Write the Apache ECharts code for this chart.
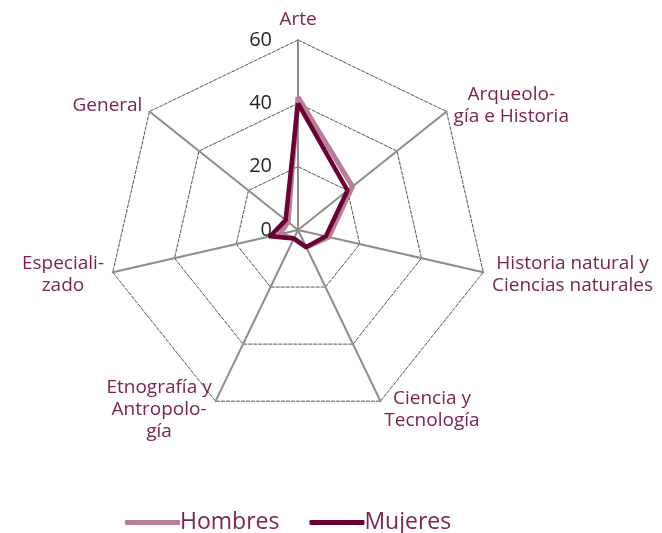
<!DOCTYPE html>
<html>
<head>
<meta charset="utf-8">
<script src="https://cdn.jsdelivr.net/npm/echarts@6/dist/echarts.min.js"></script>
<style>
  html, body { margin: 0; padding: 0; background: #fff; }
  #chart { width: 662px; height: 533px; }
</style>
</head>
<body>
<div id="chart"></div>
<script>
// categories in clockwise order, starting at the top
var categories = ['Arte', 'Arqueolo-\ngía e Historia', 'Historia natural y\nCiencias naturales',
  'Ciencia y\nTecnología', 'Etnografía y\nAntropolo-\ngía', 'Especiali-\nzado', 'General'];
var hombres = [42, 22, 10, 6, 3, 6, 4];
var mujeres = [40, 20, 9, 6, 3, 9, 5];
var tickLabels = [0, 20, 40, 60];

// echarts radar goes counter-clockwise, so keep the first item and reverse the rest
function ccw(arr) {
  return [arr[0]].concat(arr.slice(1).reverse());
}

var chart = echarts.init(document.getElementById('chart'));
var plum = '#7d2350';
var font = 'Open Sans';

var option = {
  backgroundColor: '#fff',
  color: ['#b87d99', '#6a0034'],
  textStyle: { fontFamily: font },
  legend: {
    left: 120,
    top: 506,
    itemWidth: 55,
    itemHeight: 5,
    itemGap: 30,
    icon: 'roundRect',
    textStyle: { fontSize: 23, color: plum, padding: [0, 0, 0, -5] },
    data: ['Hombres', 'Mujeres']
  },
  // tick labels drawn by a hidden y axis running along the top spoke
  grid: { left: 298, top: 40, width: 1, height: 190 },
  xAxis: { show: false, type: 'value' },
  yAxis: {
    type: 'value',
    min: 0,
    max: 60,
    interval: 20,
    axisLine: { show: false },
    axisTick: { show: false },
    splitLine: { show: false },
    axisLabel: { margin: 26, fontSize: 20, color: '#262626' },
    data: tickLabels
  },
  radar: {
    center: [298, 230],
    radius: 190,
    startAngle: 90,
    shape: 'polygon',
    splitNumber: 3,
    axisNameGap: 9,
    axisName: {
      color: plum,
      fontSize: 19,
      lineHeight: 22,
      // center every line inside its label block
      formatter: function (name) {
        return name.split('\n').map(function (s) { return '{c|' + s + '}'; }).join('\n');
      },
      rich: { c: { align: 'center', color: plum, fontSize: 19, lineHeight: 22, fontFamily: font } }
    },
    axisLine: { lineStyle: { color: '#8c8c8c', width: 2 } },
    splitLine: { lineStyle: { color: '#555', width: 1, type: [4, 1] } },
    splitArea: { show: false },
    indicator: ccw(categories).map(function (c) { return { name: c, min: 0, max: 60 }; })
  },
  series: [{
    type: 'radar',
    symbol: 'none',
    data: [
      { name: 'Hombres', value: ccw(hombres), lineStyle: { width: 5, color: '#b87d99' } },
      { name: 'Mujeres', value: ccw(mujeres), lineStyle: { width: 4.5, color: '#6a0034' } }
    ]
  }]
};

chart.setOption(option);
</script>
</body>
</html>
